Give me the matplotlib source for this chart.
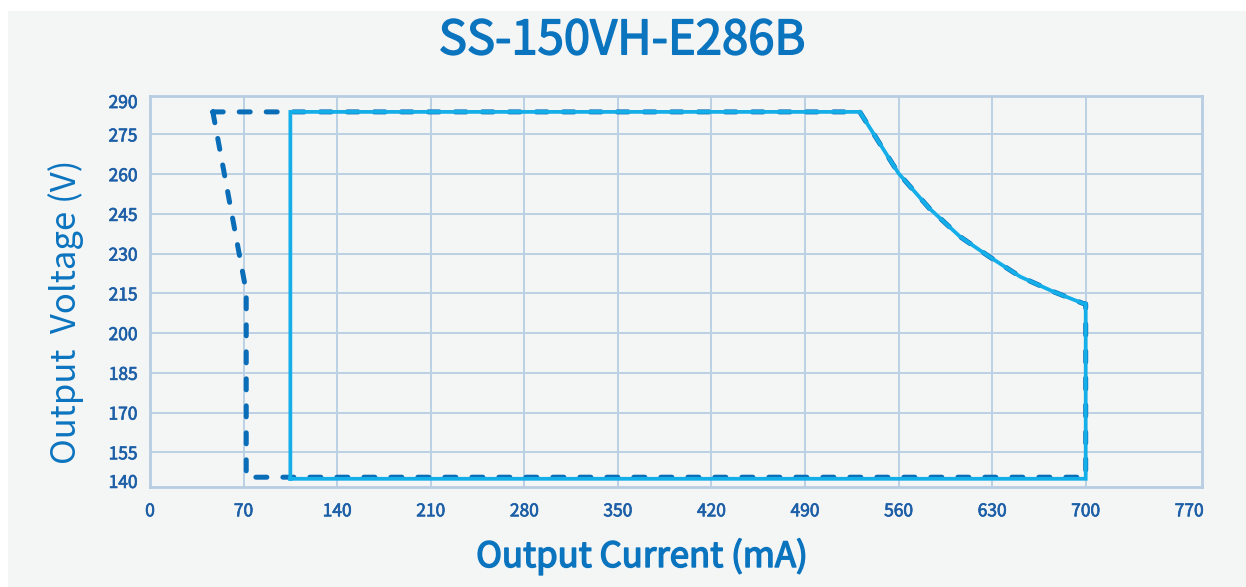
import matplotlib
matplotlib.use("Agg")
import matplotlib.pyplot as plt
import matplotlib.transforms as mtransforms
import matplotlib.patheffects as pe
from matplotlib.patches import Rectangle
import numpy as np

plt.rcParams['font.family'] = ['Noto Sans CJK SC', 'DejaVu Sans']

# -------------------- DATA --------------------
TITLE = "SS-150VH-E286B"
X_LABEL = "Output Current (mA)"
Y_LABEL = "Output  Voltage (V)"

x_ticks = [0, 70, 140, 210, 280, 350, 420, 490, 560, 630, 700, 770]
y_ticks = [140, 155, 170, 185, 200, 215, 230, 245, 260, 275, 290]

# operating window, solid outline (mA, V)
solid_current = [105, 105, 531, 560, 583, 606, 628, 651, 676, 698, 700, 700, 105]
solid_voltage = [145, 283.5, 283.5, 260.3, 247.1, 236.4, 228.8, 221.3, 215.6, 211.2, 211, 145, 145]

# dashed outline
dash_current = [47, 72, 72, 700, 700, 698, 676, 651, 628, 606, 583, 560, 531, 47]
dash_voltage = [283.5, 215.6, 145.6, 145.6, 211, 211.2, 215.6, 221.3, 228.8, 236.4, 247.1, 260.3, 283.5, 283.5]

# -------------------- STYLE --------------------
BG = '#f4f5f5'
GRID = '#bcd1e5'
FRAME = '#b8cde2'
TICK_COLOR = '#1d5fa7'
LABEL_COLOR = '#0b74bf'
SOLID_COLOR = '#14aee8'
DASH_COLOR = '#0a6db7'

X_LIM = (0, 787)
Y_LIM = (141.9, 289.5)

fig = plt.figure(figsize=(12.46, 5.87), dpi=100)
fig.patch.set_facecolor('white')
fig.patches.append(Rectangle((8 / 1246, 0), 1 - 8 / 1246, 1 - 11 / 587,
                             transform=fig.transFigure, facecolor=BG,
                             edgecolor='none', zorder=-5))

ax = fig.add_axes([150 / 1246, 1 - 487 / 587, (1202 - 150) / 1246, (487 - 96) / 587])
ax.set_facecolor(BG)
ax.set_xlim(*X_LIM)
ax.set_ylim(*Y_LIM)

# grid only on inner ticks
for xv in x_ticks:
    if X_LIM[0] < xv < 770:
        ax.axvline(xv, color=GRID, lw=1.4, zorder=1)
for yv in y_ticks:
    if Y_LIM[0] < yv < Y_LIM[1]:
        ax.axhline(yv, color=GRID, lw=1.4, zorder=1)

# end labels sit just inside the frame
y_pos = np.clip(y_ticks, Y_LIM[0] + 2.3, Y_LIM[1] - 1.9)
ax.set_yticks(y_pos, [str(v) for v in y_ticks])
ax.set_xticks(x_ticks, [str(v) for v in x_ticks])
ax.tick_params(length=0, colors=TICK_COLOR, labelsize=12.5)
ax.tick_params(axis='y', pad=9)
ax.tick_params(axis='x', pad=11)
thin = [pe.withStroke(linewidth=0.5, foreground=TICK_COLOR)]
for lab in ax.get_xticklabels() + ax.get_yticklabels():
    lab.set_path_effects(thin)
last = ax.get_xticklabels()[-1]
last.set_transform(last.get_transform() + mtransforms.ScaledTranslation(10 / 100, 0, fig.dpi_scale_trans))

for s in ax.spines.values():
    s.set_color(FRAME)
    s.set_linewidth(2)

# dashed sits under the solid one, its wider dashes peek out at the edges
ax.plot(dash_current, dash_voltage, color=DASH_COLOR, lw=3.6, linestyle=(0, (2.2, 3.2)),
        dash_capstyle='round', solid_joinstyle='round', zorder=3)
ax.plot(solid_current, solid_voltage, color=SOLID_COLOR, lw=2.7, solid_joinstyle='miter', zorder=4)

medium = [pe.withStroke(linewidth=1.1, foreground=LABEL_COLOR)]
fig.text(622 / 1246, 1 - 41 / 587, TITLE, ha='center', va='center',
         fontsize=34, color=LABEL_COLOR, path_effects=medium)
fig.text(642 / 1246, 1 - 557 / 587, X_LABEL, ha='center', va='center',
         fontsize=25, color=LABEL_COLOR, path_effects=medium)
fig.text(66 / 1246, 1 - 312 / 587, Y_LABEL, ha='center', va='center', rotation=90,
         fontsize=25, color=LABEL_COLOR)

fig.savefig('out.png', dpi=100, facecolor=fig.get_facecolor())
